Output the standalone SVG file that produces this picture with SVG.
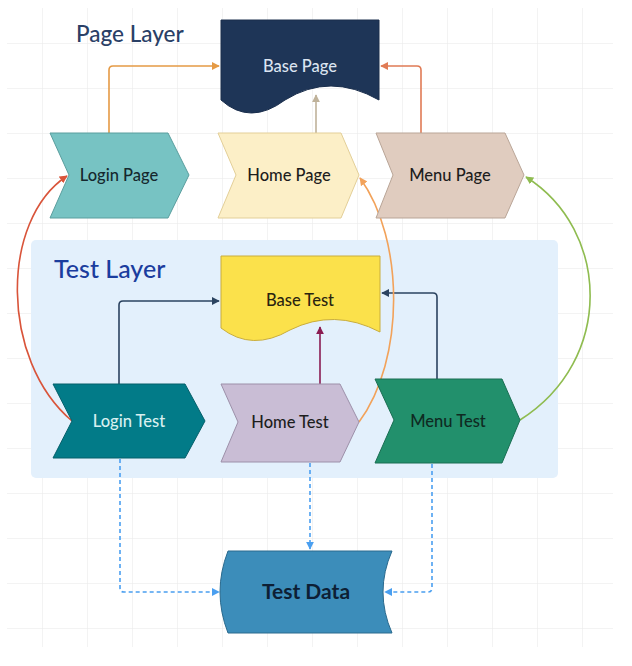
<svg xmlns="http://www.w3.org/2000/svg" width="632" height="666" viewBox="0 0 632 666">
<style>
.lbl{font-family:Lato,"Open Sans","Liberation Sans",sans-serif;font-size:16.5px;font-weight:500;text-anchor:middle}
.title{font-family:Lato,"Open Sans","Liberation Sans",sans-serif;font-size:22.5px;font-weight:500}
.conn{fill:none;stroke-width:1.6;stroke-linejoin:round}
.dash{fill:none;stroke:#4a9ff0;stroke-width:1.6;stroke-dasharray:4 3}
</style>
<defs>
<pattern id="grid" patternUnits="userSpaceOnUse" x="42" y="43" width="45" height="45">
<path d="M0,0 H45 M0,0 V45" fill="none" stroke="#e8e8e8" stroke-width="1"/>
</pattern>
<marker id="aOr" viewBox="0 0 10 10" refX="9" refY="5" markerWidth="5" markerHeight="5" orient="auto"><path d="M0,0 L10,5 L0,10 z" fill="#e59a45"/></marker>
<marker id="aTan" viewBox="0 0 10 10" refX="9" refY="5" markerWidth="5" markerHeight="5" orient="auto"><path d="M0,0 L10,5 L0,10 z" fill="#bfb29a"/></marker>
<marker id="aSal" viewBox="0 0 10 10" refX="9" refY="5" markerWidth="5" markerHeight="5" orient="auto"><path d="M0,0 L10,5 L0,10 z" fill="#e07b55"/></marker>
<marker id="aNavy" viewBox="0 0 10 10" refX="9" refY="5" markerWidth="5" markerHeight="5" orient="auto"><path d="M0,0 L10,5 L0,10 z" fill="#2b4360"/></marker>
<marker id="aCrim" viewBox="0 0 10 10" refX="9" refY="5" markerWidth="5" markerHeight="5" orient="auto"><path d="M0,0 L10,5 L0,10 z" fill="#8a1c52"/></marker>
<marker id="aRed" viewBox="0 0 10 10" refX="9" refY="5" markerWidth="5" markerHeight="5" orient="auto"><path d="M0,0 L10,5 L0,10 z" fill="#d9543a"/></marker>
<marker id="aOr2" viewBox="0 0 10 10" refX="9" refY="5" markerWidth="5" markerHeight="5" orient="auto"><path d="M0,0 L10,5 L0,10 z" fill="#f2a25a"/></marker>
<marker id="aGrn" viewBox="0 0 10 10" refX="9" refY="5" markerWidth="5" markerHeight="5" orient="auto"><path d="M0,0 L10,5 L0,10 z" fill="#8fbc50"/></marker>
<marker id="aBlue" viewBox="0 0 10 10" refX="9" refY="5" markerWidth="5" markerHeight="5" orient="auto"><path d="M0,0 L10,5 L0,10 z" fill="#4a9ff0"/></marker>
</defs>
<rect width="632" height="666" fill="#ffffff"/>
<rect x="7" y="8" width="606" height="639" fill="url(#grid)"/>

<g id="test-layer">
<rect x="31" y="240" width="527" height="238" rx="5" fill="#e3f0fc"/>
<text class="title" x="54" y="278" fill="#1b3d9e" style="font-size:25px">Test Layer</text>
</g>
<g id="page-layer-label">
<text class="title" x="76" y="42" fill="#2a4066">Page Layer</text>
</g>

<g id="connectors">
<path class="conn" stroke="#e59a45" d="M109,133 V70 Q109,66 113,66 H219" marker-end="url(#aOr)"/>
<path class="conn" stroke="#bfb29a" d="M316,133 V95" marker-end="url(#aTan)"/>
<path class="conn" stroke="#e07b55" d="M421,133 V70 Q421,66 417,66 H381" marker-end="url(#aSal)"/>
<path class="conn" stroke="#2b4360" d="M119,384 V305 Q119,301 123,301 H219" marker-end="url(#aNavy)"/>
<path class="conn" stroke="#8a1c52" d="M320,384 V327" marker-end="url(#aCrim)"/>
<path class="conn" stroke="#2b4360" d="M437,379 V297 Q437,293 433,293 H382" marker-end="url(#aNavy)"/>
<path class="conn" stroke="#d9543a" d="M72,421 C0,360 0,220 67,176" marker-end="url(#aRed)"/>
<path class="conn" stroke="#f2a25a" d="M359,422 C405,360 405,240 360,178" marker-end="url(#aOr2)"/>
<path class="conn" stroke="#8fbc50" d="M520,420 C615,360 610,230 526,177" marker-end="url(#aGrn)"/>
<path class="dash" d="M120,459 V588 Q120,592 124,592 H219" marker-end="url(#aBlue)"/>
<path class="dash" d="M310,463 V549" marker-end="url(#aBlue)"/>
<path class="dash" d="M432,464 V588 Q432,592 428,592 H385" marker-end="url(#aBlue)"/>
</g>

<g id="base-page">
<path d="M221,20 H379 V100 Q330,72 285,100 Q250,126 221,100 Z" fill="#1e3557" stroke="#1a2e4c" stroke-width="1"/>
<text class="lbl" x="300" y="72" fill="#dbe4f0">Base Page</text>
</g>
<g id="login-page">
<path d="M50,133 H168 L189,175 L168,218 H50 L69,175 Z" fill="#77c3c3" stroke="#5a9e9e" stroke-width="1"/>
<text class="lbl" x="119" y="181" fill="#15282e">Login Page</text>
</g>
<g id="home-page">
<path d="M218,133 H341 L359,175 L341,218 H218 L236,175 Z" fill="#fcefc7" stroke="#e3cf98" stroke-width="1"/>
<text class="lbl" x="289" y="181" fill="#1d1d1d">Home Page</text>
</g>
<g id="menu-page">
<path d="M376,133 H505 L524,175 L505,218 H376 L393,175 Z" fill="#e0ccbf" stroke="#b9a597" stroke-width="1"/>
<text class="lbl" x="450" y="181" fill="#1d1d1d">Menu Page</text>
</g>

<g id="base-test">
<path d="M221,256 H380 V332 Q334,308 290,330 Q252,352 221,328 Z" fill="#fbe14b" stroke="#c9ad3c" stroke-width="1"/>
<text class="lbl" x="300" y="306" fill="#2a2410">Base Test</text>
</g>
<g id="login-test">
<path d="M53,384 H185 L205,421 L185,458 H53 L72,421 Z" fill="#027b88" stroke="#05606b" stroke-width="1"/>
<text class="lbl" x="129" y="427" fill="#d8f0f0">Login Test</text>
</g>
<g id="home-test">
<path d="M221,384 H340 L359,422 L340,462 H221 L238,422 Z" fill="#c9bdd5" stroke="#9d90a9" stroke-width="1"/>
<text class="lbl" x="290" y="428" fill="#1d1d1d">Home Test</text>
</g>
<g id="menu-test">
<path d="M375,379 H502 L520,420 L502,463 H375 L394,420 Z" fill="#22906c" stroke="#1a6e52" stroke-width="1"/>
<text class="lbl" x="448" y="427" fill="#0f2a22">Menu Test</text>
</g>

<g id="test-data">
<path d="M228,551 H392 Q374,592 392,633 H228 Q212,592 228,551 Z" fill="#3c8dba" stroke="#2a6a8e" stroke-width="1"/>
<text class="lbl" x="306" y="599" fill="#0d1f35" style="font-size:21px;font-weight:700">Test Data</text>
</g>
</svg>
